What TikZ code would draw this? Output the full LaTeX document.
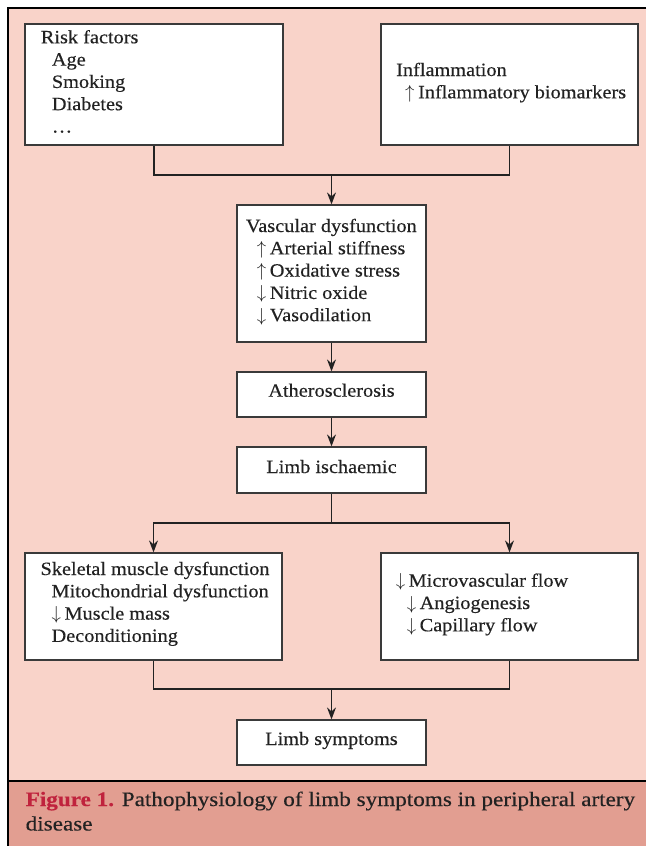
\RequirePackage{fix-cm}
\documentclass[tikz,border=0pt]{standalone}
\usepackage{fontspec}
\setmainfont{Liberation Serif}[FakeStretch=1.08,FakeBold=0.35]
\newfontfamily\capfont{Liberation Serif}[FakeStretch=1.13,FakeBold=0.35]
\usetikzlibrary{arrows.meta}
\definecolor{bgpink}{HTML}{F9D3C9}
\definecolor{capband}{HTML}{E29E91}
\definecolor{figred}{HTML}{C0233D}
\definecolor{boxline}{HTML}{3A3A3A}
\definecolor{inkcol}{HTML}{222222}
\newcommand{\bodyfont}{\fontsize{18.8}{22.3}\selectfont}
\newcommand{\captionfont}{\capfont\fontsize{20.5}{24.5}\selectfont}
\newcommand{\boxlines}[1]{\begin{tabular}[t]{@{}l@{}}#1\end{tabular}}
\newcommand{\myind}{\hspace*{11pt}}
\newcommand{\arrup}{$\uparrow$\hspace{3.5pt}}
\newcommand{\arrdn}{$\downarrow$\hspace{3.5pt}}
\tikzset{
  box/.style={draw=boxline, line width=1.2pt, fill=white, inner sep=0pt},
  txt/.style={inner sep=0pt, anchor=base west, font=\bodyfont, text=inkcol},
  ctxt/.style={inner sep=0pt, anchor=base, font=\bodyfont, text=inkcol},
  link/.style={draw=inkcol, line width=1.3pt},
  arr/.style={link, -{Stealth[length=12pt,width=9pt,inset=4pt]}},
}
\begin{document}
\begin{tikzpicture}[x=1pt,y=-1pt]
\useasboundingbox (0,0) rectangle (646,846);
% background and frame
\fill[white] (0,0) rectangle (646,846);
\fill[bgpink] (8,8) rectangle (646,782);
\fill[capband] (8,782) rectangle (646,846);
\draw[black, line width=1.5pt] (646,8) -- (8,8) -- (8,846);
\draw[black, line width=1.5pt] (8,781) -- (646,781);

% boxes
\node[box, minimum width=258pt, minimum height=121pt] (risk) at (154,84.5) {};
\node[txt] (riskt) at (40.7,43.3) {\boxlines{Risk factors\\\myind Age\\\myind Smoking\\\myind Diabetes\\\myind\ldots}};

\node[box, minimum width=257pt, minimum height=121pt] (infl) at (509.5,84.5) {};
\node[txt] (inflt) at (396,76) {\boxlines{Inflammation\\\hspace*{9pt}\arrup Inflammatory biomarkers}};

\node[box, minimum width=189pt, minimum height=137pt] (vasc) at (331.5,273.5) {};
\node[txt] (vasct) at (245.7,232) {\boxlines{Vascular dysfunction\\\myind\arrup Arterial stiffness\\\myind\arrup Oxidative stress\\\myind\arrdn Nitric oxide\\\myind\arrdn Vasodilation}};

\node[box, minimum width=189pt, minimum height=45pt] (ather) at (331.5,394.5) {};
\node[ctxt] (athert) at (331.5,396.7) {Atherosclerosis};

\node[box, minimum width=189pt, minimum height=46pt] (limb) at (331.5,470) {};
\node[ctxt] (limbt) at (331.5,473) {Limb ischaemic};

\node[box, minimum width=257pt, minimum height=107pt] (skel) at (153.5,606.5) {};
\node[txt] (skelt) at (40.4,575) {\boxlines{Skeletal muscle dysfunction\\\myind Mitochondrial dysfunction\\\myind\arrdn Muscle mass\\\myind Deconditioning}};

\node[box, minimum width=257pt, minimum height=107pt] (micro) at (509.5,606.5) {};
\node[txt] (microt) at (395.6,586.7) {\boxlines{\arrdn Microvascular flow\\\myind\arrdn Angiogenesis\\\myind\arrdn Capillary flow}};

\node[box, minimum width=189pt, minimum height=45pt] (symp) at (331.5,742.5) {};
\node[ctxt] (sympt) at (331.5,745) {Limb symptoms};

% connectors
\coordinate (j1) at (331.5,175);
\coordinate (j2) at (331.5,523);
\coordinate (j3) at (331.5,689);
\draw[link] (risk.south) |- (j1) -| (infl.south);
\draw[arr] (j1) -- (vasc.north);
\draw[arr] (vasc.south) -- (ather.north);
\draw[arr] (ather.south) -- (limb.north);
\draw[link] (limb.south) -- (j2);
\draw[arr] (j2) -| (skel.north);
\draw[arr] (j2) -| (micro.north);
\draw[link] (skel.south) |- (j3) -| (micro.south);
\draw[arr] (j3) -- (symp.north);

% caption
\node[inner sep=0pt, anchor=base west, font=\captionfont, text=inkcol] (cap) at (25.5,806) {\begin{tabular}[t]{@{}l@{}}\textcolor{figred}{\textbf{Figure 1.}} Pathophysiology of limb symptoms in peripheral artery\\disease\end{tabular}};
\end{tikzpicture}
\end{document}
